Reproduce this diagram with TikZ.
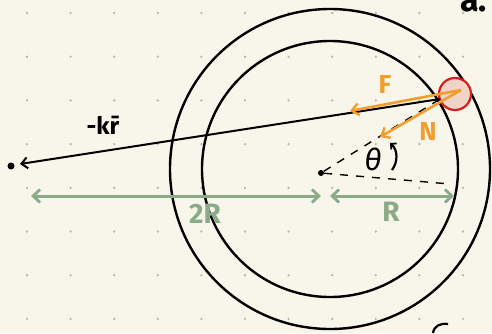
\documentclass[tikz,border=0pt]{standalone}
\usepackage{fontspec}
\setmainfont{Fira Sans}
\usetikzlibrary{arrows.meta}
\definecolor{bg}{RGB}{248,246,234}
\definecolor{dotc}{RGB}{185,185,180}
\definecolor{orng}{RGB}{242,158,46}
\definecolor{grn}{RGB}{138,170,136}
\definecolor{ballred}{RGB}{214,30,30}
\definecolor{ballfill}{RGB}{240,212,200}
\begin{document}
\begin{tikzpicture}[x=1pt,y=-1pt,
  ink/.style={line width=2.4pt,black},
  thin ink/.style={line width=2pt,black},
  orarrow/.style={line width=2.6pt,orng,-{Straight Barb[length=7pt,width=12pt,line width=2.4pt]}},
  grarrow/.style={line width=3pt,grn,{Straight Barb[length=7pt,width=13pt,line width=2.8pt]}-{Straight Barb[length=7pt,width=13pt,line width=2.8pt]}},
  lbl/.style={inner sep=0pt,font=\fontsize{26}{26}\selectfont\bfseries},
  dashln/.style={line width=1.4pt,dash pattern=on 8pt off 8pt,black}]
\fill[bg] (0,0) rectangle (492,333);
\useasboundingbox (0,0) rectangle (492,333);
\clip (0,0) rectangle (492,333);
% dot grid
\foreach \i in {0,...,10}{
  \foreach \j in {0,...,7}{
    \fill[dotc] ({27+43.6*\i},{13+43.7*\j}) circle (1.3pt);
  }
}
% circles
\coordinate (o) at (330,169);
\draw[ink] (o) circle (160);
\draw[ink] (o) circle (128);
% centre dot and left dot
\node[circle,fill=black,inner sep=0pt,minimum size=6pt] (c) at (321,173) {};
\node[circle,fill=black,inner sep=0pt,minimum size=7pt] (p) at (11,166) {};
% ball
\node[circle,draw=ballred,fill=ballfill,line width=2.2pt,minimum size=32pt,inner sep=0pt] (ball) at (455,94) {};
\coordinate (b) at (440,99);
\coordinate (bs) at (461,90);
% dashed lines
\coordinate (h) at (450,184);
\draw[dashln] (c) -- (b);
\draw[dashln] (c) -- (h);
% -kr arrow
\coordinate (pt) at (20,164);
\draw[thin ink,-{Straight Barb[length=6pt,width=11pt,line width=2pt]}] (b) -- (pt);
\node[lbl,font=\fontsize{24}{24}\selectfont\bfseries] (kr) at (103,125) {-k\={r}};
% forces
\coordinate (fe) at (350,111);
\coordinate (ne) at (380,137);
\draw[orarrow] (bs) -- (fe);
\draw[orarrow] (bs) -- (ne);
\node[lbl,orng] (F) at (385,84) {F};
\node[lbl,orng] (N) at (428,131) {N};
% theta
\node[lbl,font=\fontsize{30}{30}\selectfont\itshape] (th) at (373,159) {θ};
\coordinate (a1) at (392,170);
\coordinate (a2) at (390,143);
\draw[line width=2.2pt,-{Straight Barb[length=4pt,width=8pt,line width=1.8pt]}] (a1) .. controls (398,162) and (398,150) .. (a2);
% green dimension arrows
\coordinate (g1) at (31,196);
\coordinate (g2) at (321,196);
\coordinate (g3) at (330,196);
\coordinate (g4) at (454,196);
\draw[grarrow] (g1) -- (g2);
\draw[grarrow] (g3) -- (g4);
\node[lbl,grn,font=\fontsize{28}{28}\selectfont\bfseries] (twoR) at (205,214) {2R};
\node[lbl,grn,font=\fontsize{28}{28}\selectfont\bfseries] (R) at (391,212) {R};
% clipped marks at edges
\node[lbl,font=\fontsize{34}{34}\selectfont\bfseries,anchor=west] (acut) at (460,2) {a.};
\draw[line width=2.2pt] (433,333) .. controls (434,326) and (440,323) .. (448,324);
\end{tikzpicture}
\end{document}
